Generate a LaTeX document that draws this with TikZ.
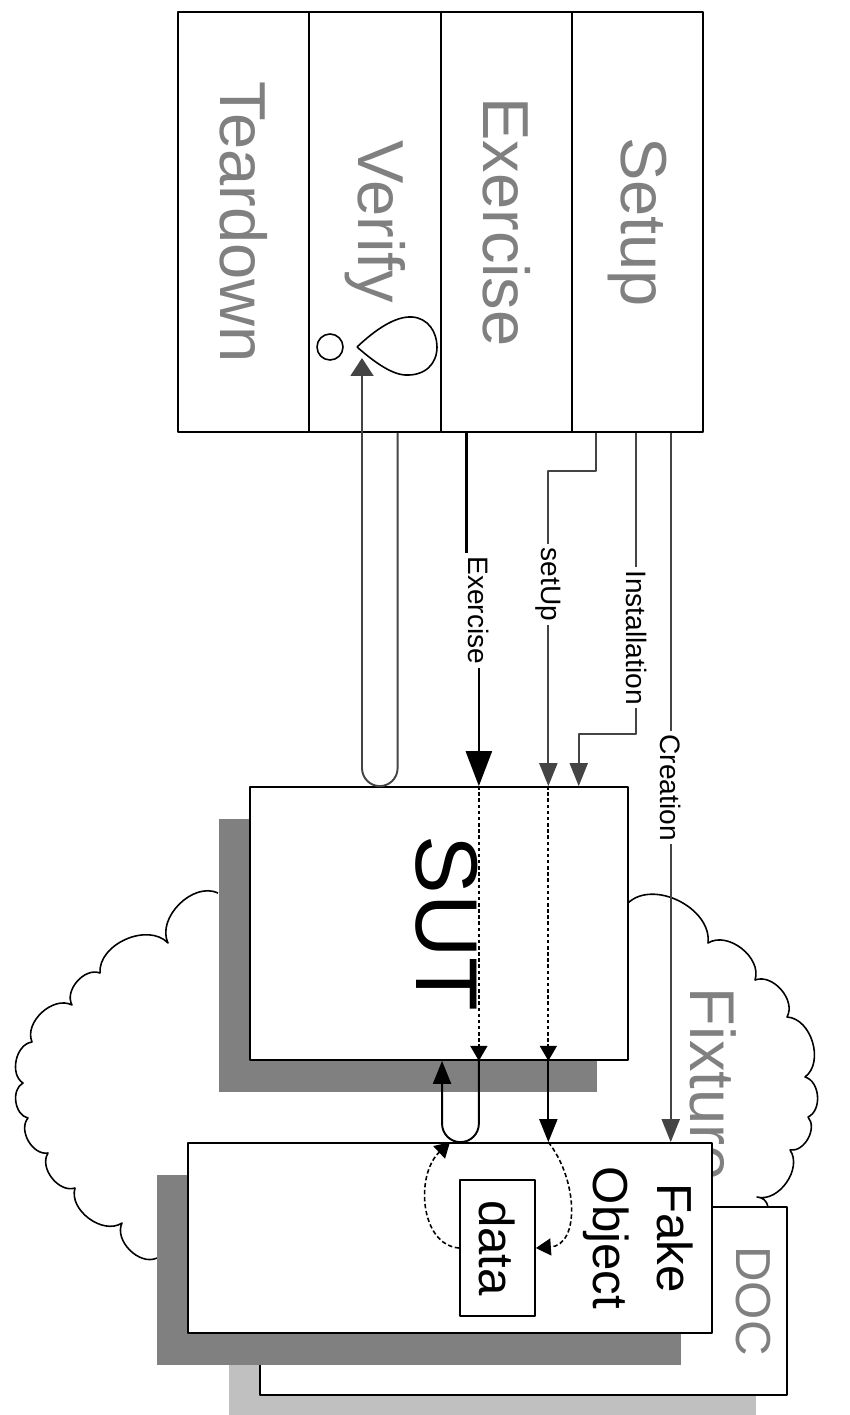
\documentclass[tikz,border=0pt]{standalone}
\usepackage{fontspec}
\setmainfont{Liberation Sans}
\usepackage{graphicx}
\usetikzlibrary{arrows.meta,calc,shadows,positioning}

\definecolor{labelgray}{HTML}{808080}
\definecolor{shadegray}{HTML}{808080}
\definecolor{lightshade}{HTML}{C0C0C0}
\definecolor{feedgray}{HTML}{444444}

\begin{document}
\begin{tikzpicture}[
						x=0.02cm, y=-0.02cm,
						every node/.style={inner sep=0pt},
						line join=round,
						phase/.style={draw, line width=1.1pt, minimum width=2.62cm, minimum height=8.4cm, text=labelgray, font=\fontsize{37}{40}\selectfont},
						unit/.style={draw, fill=white, line width=1pt, drop shadow={shadow xshift=-0.62cm, shadow yshift=-0.64cm, fill=shadegray, opacity=1}},
						backunit/.style={draw, fill=white, line width=1pt, drop shadow={shadow xshift=-0.62cm, shadow yshift=-0.64cm, fill=lightshade, opacity=1}},
						lbl/.style={fill=white, inner sep=2pt, font=\fontsize{16}{18}\selectfont},
						feed/.style={draw=feedgray, line width=1.1pt},
						bigtip/.style={-{Triangle[width=0.52cm, length=0.7cm]}},
						midtip/.style={-{Triangle[width=0.36cm, length=0.46cm]}},
						smalltip/.style={-{Triangle[width=0.34cm, length=0.3cm]}},
						relay/.style={line width=1pt, dash pattern=on 2pt off 1.5pt},
						inner/.style={line width=0.9pt, dash pattern=on 2.5pt off 1.5pt}
						]
						
						\useasboundingbox (0,0) rectangle (849,1415);
						
						\draw[line width=0.9pt] (218,893) to[bend right=70] (168,943) to[bend right=70] (100,973)
							to[bend right=70] (72,1005) to[bend right=70] (32,1042) to[bend right=70] (23,1083)
							to[bend right=70] (28,1118) to[bend right=70] (48,1153) to[bend right=70] (75,1188)
							to[bend right=70] (122,1223) to[bend right=70] (157,1258);
						\draw[line width=0.9pt] (628,903) to[bend left=70] (708,943) to[bend left=70] (755,980)
							to[bend left=70] (787,1017) to[bend left=70] (805,1077) to[bend left=70] (808,1117)
							to[bend left=70] (790,1150) to[bend left=70] (757,1197) to[bend left=40] (768,1207);
						
						\node[text=labelgray, font=\fontsize{36}{40}\selectfont] (fixture) at (713,1084) {\rotatebox{-90}{Fixture}};
						
						\node[backunit, minimum width=10.54cm, minimum height=3.76cm] (doc) at (523.5,1301) {};
						\node[text=labelgray, font=\fontsize{28}{32}\selectfont, left=0.34cm of doc.east] (doclabel) {\rotatebox{-90}{DOC}};
						
						\node[unit, minimum width=10.48cm, minimum height=3.8cm] (fake) at (450,1238) {};
						\node[font=\fontsize{28}{36}\selectfont, left=0.22cm of fake.east] (fakelabel) {\rotatebox{-90}{\begin{tabular}{@{}c@{}}Fake\\Object\end{tabular}}};
						\node[draw, fill=white, line width=1pt, minimum width=1.5cm, minimum height=2.72cm, font=\fontsize{28}{32}\selectfont] (data) at (497.5,1248) {\rotatebox{-90}{data}};
						
						\node[unit, minimum width=7.56cm, minimum height=5.46cm, font=\fontsize{50}{55}\selectfont] (sut) at (439,923.5) {\hspace*{0.3cm}\rotatebox{-90}{SUT}};
						
						\node[phase] (teardown) at (243.5,222) {\rotatebox{-90}{Teardown}};
						\node[phase] (verify) at (375,222) {\rotatebox{-90}{Verify}};
						\node[phase] (exercise) at (506.5,222) {\rotatebox{-90}{Exercise}};
						\node[phase] (setup) at (637.5,222) {\rotatebox{-90}{Setup}};
						
						\node[draw, circle, line width=0.9pt, minimum size=0.52cm] (bubble) at (330,347) {};
						\draw[line width=0.9pt] (357,347) .. controls (375,330) and (395,316) .. (412,317)
							.. controls (428,318) and (437,332) .. (437,347)
							.. controls (437,364) and (425,376) .. (405,375)
							.. controls (390,374) and (372,360) .. (357,347);
						\coordinate (droptip) at (362,358);
						
						\draw[feed, rounded corners=0.36cm, -{Triangle[width=0.46cm, length=0.36cm]}] ($(verify.south west)!0.67!(verify.south east)$) coordinate (vOut) -- (vOut |- sut.north) -| (droptip);
						\draw[line width=1.4pt, bigtip] ($(exercise.south west)!0.2!(exercise.south east)$) -- ++(0,170) -| node[lbl, pos=0.52] {\rotatebox{-90}{Exercise}} ($(sut.north west)!0.605!(sut.north east)$);
						\draw[feed, midtip] ($(setup.south west)!0.19!(setup.south east)$) -- ++(0,38) -| node[lbl, pos=0.68] {\rotatebox{-90}{setUp}} ($(sut.north west)!0.788!(sut.north east)$);
						\draw[feed, midtip] ($(setup.south west)!0.49!(setup.south east)$) -- node[lbl, pos=0.68] {\rotatebox{-90}{Installation}} ++(0,301) -| ($(sut.north west)!0.868!(sut.north east)$);
						\draw[feed, midtip] ($(setup.south west)!0.75!(setup.south east)$) coordinate (crOut) -- node[lbl, pos=0.5] {\rotatebox{-90}{Creation}} (crOut |- fake.north);
						
						\draw[relay, smalltip] ($(sut.north west)!0.605!(sut.north east)$) -- ($(sut.south west)!0.605!(sut.south east)$);
						\draw[relay, smalltip] ($(sut.north west)!0.788!(sut.north east)$) -- ($(sut.south west)!0.788!(sut.south east)$);
						
						\draw[line width=1.1pt, rounded corners=0.37cm, midtip] ($(sut.south west)!0.605!(sut.south east)$) coordinate (exOut) -- (exOut |- fake.north) -| ($(sut.south west)!0.508!(sut.south east)$);
						\draw[line width=1.1pt, midtip] ($(sut.south west)!0.788!(sut.south east)$) coordinate (suOut) -- (suOut |- fake.north);
						
						\draw[inner, smalltip] (suOut |- fake.north) .. controls (578,1180) and (580,1245) .. (data.east);
						\draw[inner, smalltip] (data.west) .. controls (420,1245) and (415,1175) .. (fake.north);
						
					\end{tikzpicture}
\end{document}
